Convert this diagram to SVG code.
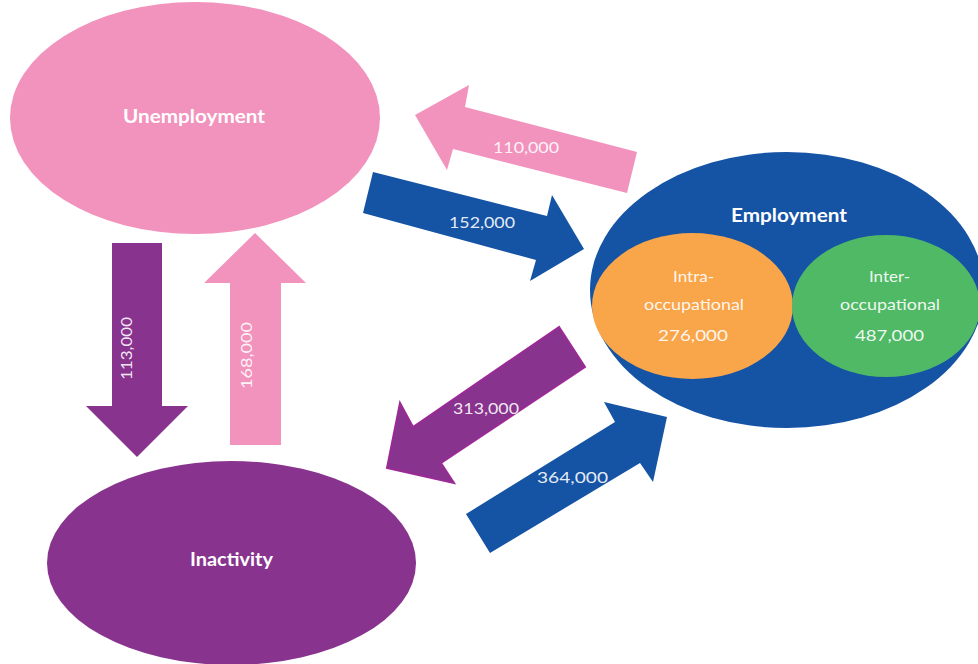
<svg xmlns="http://www.w3.org/2000/svg" width="978" height="664" viewBox="0 0 978 664">
<style>
.t{font-family:Lato,"Open Sans","Liberation Sans",sans-serif;fill:#ffffff;}
.b{font-weight:bold;font-size:19px;}
.s{font-size:16px;fill-opacity:0.92;}
.n{font-size:16px;fill-opacity:0.9;}
</style>
<rect width="978" height="664" fill="#ffffff"/>
<g id="unemployment">
<ellipse cx="195" cy="118" rx="185" ry="116" fill="#F293BD"/>
<text class="t b" x="194" y="123" text-anchor="middle" textLength="142" lengthAdjust="spacingAndGlyphs">Unemployment</text>
</g>
<g id="inactivity">
<ellipse cx="231.5" cy="563" rx="184.5" ry="102" fill="#88338E"/>
<text class="t b" x="231.5" y="566" text-anchor="middle" textLength="83" lengthAdjust="spacingAndGlyphs">Inactivity</text>
</g>
<g id="employment">
<ellipse cx="787" cy="290" rx="197" ry="138" fill="#1553A5"/>
<text class="t b" x="789" y="222" text-anchor="middle" textLength="116" lengthAdjust="spacingAndGlyphs">Employment</text>
</g>
<g id="intra">
<ellipse cx="692.5" cy="306" rx="100.5" ry="73" fill="#F9A54A"/>
<text class="t s" x="693.5" y="282" text-anchor="middle" textLength="41" lengthAdjust="spacingAndGlyphs">Intra-</text>
<text class="t s" x="694" y="310" text-anchor="middle" textLength="100" lengthAdjust="spacingAndGlyphs">occupational</text>
<text class="t s" x="693" y="341" text-anchor="middle" textLength="70" lengthAdjust="spacingAndGlyphs">276,000</text>
</g>
<g id="inter">
<ellipse cx="886" cy="306" rx="94" ry="71" fill="#4FB966"/>
<text class="t s" x="889.5" y="282" text-anchor="middle" textLength="41" lengthAdjust="spacingAndGlyphs">Inter-</text>
<text class="t s" x="890" y="310" text-anchor="middle" textLength="100" lengthAdjust="spacingAndGlyphs">occupational</text>
<text class="t s" x="889.5" y="341" text-anchor="middle" textLength="69" lengthAdjust="spacingAndGlyphs">487,000</text>
</g>
<g id="connectors">
<g id="flow-110000">
<polygon points="637,152 465,107 469,85 415,115 447,170 453,149 627,193" fill="#F293BD"/>
<text class="t n" x="526" y="153" text-anchor="middle" textLength="66" lengthAdjust="spacingAndGlyphs">110,000</text>
</g>
<g id="flow-152000">
<polygon points="373,172 547,216 552,195 584,249 530,281 536,260 363,213" fill="#1553A5"/>
<text class="t n" x="482" y="228" text-anchor="middle" textLength="66" lengthAdjust="spacingAndGlyphs">152,000</text>
</g>
<g id="flow-313000">
<polygon points="559,327 413,427 400,403 387,468 454,483 441,463 585,367" fill="#88338E" stroke="#9B2A96" stroke-width="2" stroke-linejoin="miter"/>
<text class="t n" x="486" y="414" text-anchor="middle" textLength="66" lengthAdjust="spacingAndGlyphs">313,000</text>
</g>
<g id="flow-364000">
<polygon points="466,514 615,422 604,402 667,417 653,482 640,463 490,553" fill="#1553A5"/>
<text class="t n" x="572.5" y="483" text-anchor="middle" textLength="71" lengthAdjust="spacingAndGlyphs">364,000</text>
</g>
<g id="flow-113000">
<polygon points="112,243 162,243 162,406 188,406 137,457 86,406 112,406" fill="#88338E"/>
<text class="t n" transform="translate(132,348.5) rotate(-90)" x="0" y="0" text-anchor="middle" textLength="63" lengthAdjust="spacingAndGlyphs">113,000</text>
</g>
<g id="flow-168000">
<polygon points="230,445 281,445 281,283 306,283 255,233 204,283 230,283" fill="#F293BD"/>
<text class="t n" transform="translate(252,355.5) rotate(-90)" x="0" y="0" text-anchor="middle" textLength="67" lengthAdjust="spacingAndGlyphs">168,000</text>
</g>
</g>
</svg>
